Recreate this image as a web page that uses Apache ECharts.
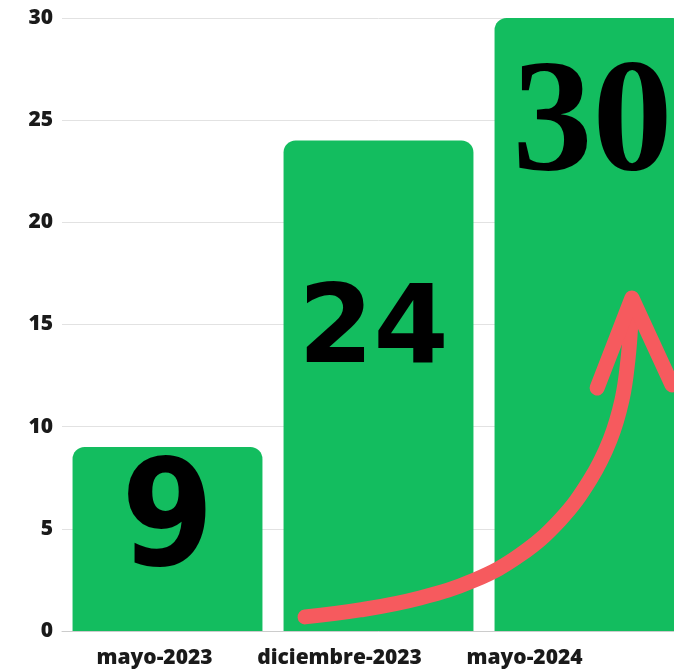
<!DOCTYPE html>
<html>
<head>
<meta charset="utf-8">
<script src="https://cdn.jsdelivr.net/npm/echarts@6/dist/echarts.min.js"></script>
<style>html,body{margin:0;padding:0;background:#fff;overflow:hidden}#c{width:700px;height:671px}</style>
</head>
<body>
<div id="c"></div>
<script>
// ---- data ----
const categories = ['mayo-2023', 'diciembre-2023', 'mayo-2024'];
const values = [9, 24, 30];
const yTicks = [0, 5, 10, 15, 20, 25, 30];
// arrow annotation, in data units (x: 0..3 across the categories, y: value axis)
const arrowCurve = [[1.152, 0.69], [1.412, 1.03], [1.697, 1.62], [1.957, 2.50], [2.171, 3.72], [2.360, 5.43], [2.502, 7.39], [2.597, 9.35], [2.654, 11.31], [2.682, 13.26], [2.697, 15.22], [2.701, 16.2]];
const arrowHead = [[2.536, 11.89], [2.701, 16.3], [2.891, 12.04]];

// ---- styles (not data) ----
const richKeys = ['a', 'b', 'c'];
const labelOffsets = [[0, 79], [-5, 193], [3, 110]];
const rich = {
  a: { fontFamily: '"DejaVu Sans Condensed", "Liberation Sans Narrow", "DejaVu Sans", sans-serif', fontSize: 148, fontWeight: 'bold', color: '#000' },
  b: { fontFamily: '"DejaVu Sans", sans-serif', fontSize: 108, fontWeight: 'bold', color: '#000' },
  c: { fontFamily: '"Liberation Serif", serif', fontSize: 160, fontWeight: 'bold', color: '#000' }
};
const axisFont = { color: '#1a1a1a', fontFamily: '"Open Sans"', fontWeight: 800, fontSize: 21 };

const chart = echarts.init(document.getElementById('c'), null, { renderer: 'canvas' });
const barData = values.map((v, i) => ({
  value: v,
  label: {
    position: ['50%', labelOffsets[i][1]],
    offset: [labelOffsets[i][0], 0],
    formatter: '{' + richKeys[i] + '|' + v + '}'
  }
}));

const arrowColor = '#f65a5e';
chart.setOption({
  animation: false,
  backgroundColor: '#fff',
  grid: [
    { left: 62, top: 18, width: 633, height: 613, containLabel: false },
    { left: 62, top: 18, width: 555, height: 613, containLabel: false }
  ],
  xAxis: [
    {
      type: 'category', data: categories, gridIndex: 0,
      axisLine: { show: true, lineStyle: { color: '#cccccc', width: 1 } },
      axisTick: { show: false },
      axisLabel: { show: false }
    },
    { type: 'value', min: 0, max: 3, show: false, gridIndex: 0 },
    {
      type: 'category', data: categories, gridIndex: 1,
      axisLine: { show: false }, axisTick: { show: false }, splitLine: { show: false },
      axisLabel: Object.assign({ interval: 0, hideOverlap: false, margin: 17 }, axisFont)
    }
  ],
  yAxis: [
    {
      type: 'value', min: yTicks[0], max: yTicks[yTicks.length - 1], interval: yTicks[1] - yTicks[0], gridIndex: 0,
      axisLine: { show: false }, axisTick: { show: false },
      splitLine: { lineStyle: { color: '#e2e2e2', width: 1 } },
      axisLabel: Object.assign({ margin: 9 }, axisFont)
    },
    { type: 'value', min: 0, max: 30, gridIndex: 1, show: false, splitLine: { show: false } }
  ],
  series: [
    {
      type: 'bar', data: barData, barCategoryGap: '10%', xAxisIndex: 0, yAxisIndex: 0,
      itemStyle: { color: '#13bd5f', borderRadius: [12, 12, 0, 0] },
      label: { show: true, align: 'center', verticalAlign: 'middle', rich: rich },
      z: 2
    },
    {
      type: 'line', xAxisIndex: 1, yAxisIndex: 0, data: arrowCurve, smooth: 0.4, symbol: 'none',
      lineStyle: { color: arrowColor, width: 15, cap: 'round', join: 'round' }, z: 5
    },
    {
      type: 'line', xAxisIndex: 1, yAxisIndex: 0, data: arrowHead, smooth: false, symbol: 'none',
      lineStyle: { color: arrowColor, width: 15, cap: 'round', join: 'round' }, z: 5
    }
  ]
});
</script>
</body>
</html>
